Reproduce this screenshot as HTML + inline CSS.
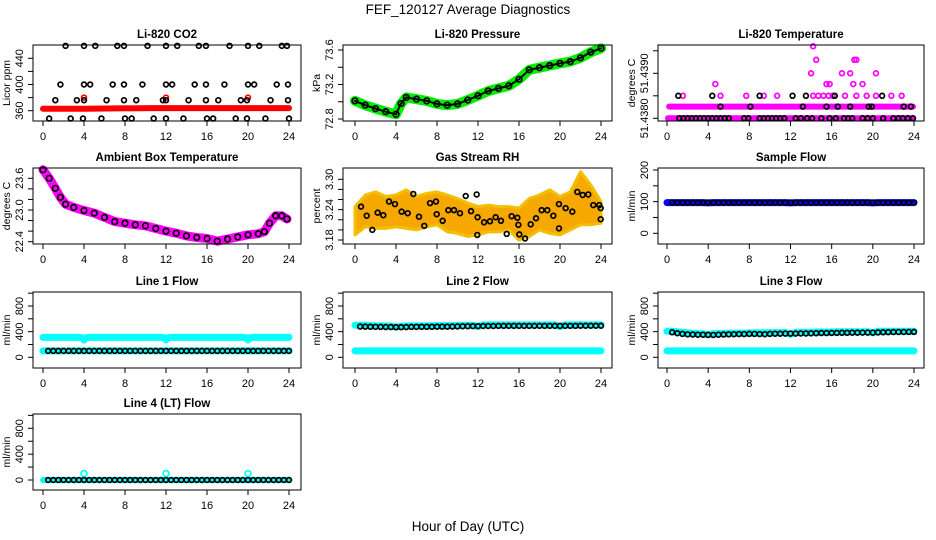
<!DOCTYPE html>
<html><head><meta charset="utf-8"><style>
html,body{margin:0;padding:0;background:#fff;}
svg{display:block;font-family:"Liberation Sans",Arial,sans-serif;}
</style></head><body>
<svg id="chart" width="936" height="540" viewBox="0 0 936 540">
<rect width="936" height="540" fill="#fff"/>
<text x="468" y="14" font-size="13.5" text-anchor="middle">FEF_120127  Average Diagnostics</text>
<text x="468" y="531" font-size="13.5" text-anchor="middle">Hour of Day (UTC)</text>
</svg>
<script>
// ---------- DATA ----------
const xTicks = [0,4,8,12,16,20,24];
const HH = [0,0.5,1,1.5,2,2.5,3,3.5,4,4.5,5,5.5,6,6.5,7,7.5,8,8.5,9,9.5,10,10.5,11,11.5,12,12.5,13,13.5,14,14.5,15,15.5,16,16.5,17,17.5,18,18.5,19,19.5,20,20.5,21,21.5,22,22.5,23,23.5,24];
const HOURS = [0,1,2,3,4,5,6,7,8,9,10,11,12,13,14,15,16,17,18,19,20,21,22,23,24];

// CO2
const co2RedH = [0,4,10.5,24];
const co2RedV = [363,363,364,364];
const co2RedOutH = [4,12,20];
const co2RedOutV = [380,380,380];
const co2BlackH = [2.2,4.0,5.1,7.25,7.9,10.2,12.0,13.1,15.2,15.9,18.2,20.0,21.1,23.3,23.8,
 1.7,4.0,4.6,6.8,7.9,9.7,12.0,12.6,14.8,15.9,17.7,20.0,20.6,22.8,23.9,
 1.2,3.3,4.0,6.2,7.9,9.1,11.7,12.0,14.2,15.9,17.1,19.3,19.9,22.2,23.9,
 0.6,2.7,3.9,5.7,8.0,8.65,10.8,12.0,13.7,16.0,16.6,18.8,19.9,21.7,24.0];
const co2BlackV = [459,459,459,459,459,459,459,459,459,459,459,459,459,459,459,
 400,400,400,400,400,400,400,400,400,400,400,400,400,400,400,
 376,376,376,376,376,376,376,376,376,376,376,376,376,376,376,
 348,348,348,348,348,348,348,348,348,348,348,348,348,348,348];

// Pressure
const presH = [0,1,2,3,4,4.5,5,6,7,8,9,10,11,12,13,14,15,16,17,18,19,20,21,22,23,24];
const presV = [73.01,72.96,72.92,72.885,72.855,72.98,73.05,73.03,73.01,72.975,72.96,72.975,73.02,73.07,73.125,73.155,73.185,73.26,73.37,73.395,73.42,73.445,73.465,73.51,73.575,73.62];

// Li-820 temperature
const tempPinkBandLevels = [51.4380,51.43826];
const tempPinkH = [1.55,5.2,7.7,9.4,10.7,14.2,14.7,15.2,15.7,16.1,17.3,18.4,19.4,20.3,21.8,22.8,
 4.7,15.5,15.8,18.1,19.0, 14.0,17.0,17.8,20.3, 14.5,18.2,18.4, 14.2];
const tempPinkV = [51.4385,51.4385,51.4385,51.4385,51.4385,51.4385,51.4385,51.4385,51.4385,51.4385,51.4385,51.4385,51.4385,51.4385,51.4385,51.4385,
 51.43876,51.43876,51.43876,51.43876,51.43876, 51.4390,51.4390,51.4390,51.4390, 51.43930,51.43930,51.43930, 51.43960];
const tempBlackH = [1.2,1.6,2.0,2.4,2.8,3.2,3.6,4.0,4.4,4.8,5.2,5.6,6.0,7.5,7.9,9.0,9.4,9.8,10.2,10.6,11.0,11.4,12.5,13.0,13.6,14.1,15.0,15.8,16.4,17.2,17.6,18.0,19.0,19.5,20.0,21.0,22.0,22.5,22.9,23.4,23.9,
 5.2,8.1,13.2,15.5,16.6,17.8,19.6,19.9,23.0,23.7,
 1.1,4.4,9.0,12.2,13.5,16.3,20.9];
const tempBlackV = [51.438,51.438,51.438,51.438,51.438,51.438,51.438,51.438,51.438,51.438,51.438,51.438,51.438,51.438,51.438,51.438,51.438,51.438,51.438,51.438,51.438,51.438,51.438,51.438,51.438,51.438,51.438,51.438,51.438,51.438,51.438,51.438,51.438,51.438,51.438,51.438,51.438,51.438,51.438,51.438,51.438,
 51.43826,51.43826,51.43826,51.43826,51.43826,51.43826,51.43826,51.43826,51.43826,51.43826,
 51.4385,51.4385,51.4385,51.4385,51.4385,51.4385,51.4385];

// Ambient box temperature
const ambH = [0,0.6,1.2,1.7,2.2,3,4,5,6,7,8,9,10,11,12,13,14,15,16,17,18,19,20,21,21.6,22.1,22.7,23.3,23.8];
const ambV = [23.76,23.6,23.41,23.24,23.11,23.05,22.99,22.94,22.86,22.78,22.75,22.72,22.70,22.65,22.60,22.56,22.51,22.48,22.46,22.41,22.45,22.49,22.53,22.55,22.59,22.75,22.89,22.89,22.83];

// Gas stream RH
const rhUpper = [3.246,3.269,3.275,3.266,3.269,3.279,3.266,3.272,3.275,3.269,3.262,3.253,3.246,3.249,3.246,3.246,3.243,3.262,3.269,3.279,3.266,3.275,3.315,3.289,3.256];
const rhLower = [3.190,3.206,3.203,3.203,3.206,3.203,3.200,3.206,3.210,3.196,3.193,3.187,3.190,3.196,3.196,3.200,3.180,3.187,3.200,3.193,3.190,3.200,3.210,3.210,3.213];
const rhBlackH = [0.59,1.14,1.69,2.21,2.76,3.32,3.90,4.55,5.14,5.69,6.24,6.76,7.32,7.90,7.97,8.55,9.11,9.66,10.24,10.80,11.32,11.87,11.93,11.96,12.59,13.17,13.72,14.24,14.80,15.28,15.84,15.94,16.03,16.59,17.14,17.66,18.21,18.76,19.35,19.90,19.90,20.55,21.20,21.69,22.21,22.76,23.25,23.83,23.97,23.97];
const rhBlackV = [3.246,3.228,3.200,3.234,3.229,3.256,3.251,3.236,3.233,3.271,3.226,3.208,3.253,3.256,3.231,3.218,3.239,3.239,3.233,3.267,3.237,3.270,3.190,3.225,3.215,3.217,3.225,3.218,3.192,3.227,3.224,3.210,3.191,3.183,3.211,3.223,3.239,3.239,3.228,3.251,3.203,3.243,3.236,3.275,3.269,3.270,3.249,3.249,3.243,3.221];

// Flows (half-hourly, index 0 = hour 0)
const sampleBand = [97,97,97,97,97,97,97,97,96,97,97,97,97,97,97,97,97,97,97,97,97,97,97,97,96,97,97,97,97,97,97,97,97,97,97,97,97,97,97,97,96,97,97,97,97,97,97,97,97];
const sampleBlack = [null,97,97,97,97,97,97,97,97,97,97,97,97,97,97,97,97,97,97,97,97,97,97,97,97,97,97,97,97,97,97,97,97,97,97,97,97,97,97,97,97,97,97,97,97,97,97,97,97];
const l1CyanHi = [310,310,310,310,310,310,310,310,300,310,310,310,310,310,310,310,310,310,310,310,310,310,310,310,300,310,310,310,310,310,310,310,310,310,310,310,310,310,310,310,300,310,310,310,310,310,310,310,310];
const l1CyanLo = [100,100,100,100,100,100,100,100,100,100,100,100,100,100,100,100,100,100,100,100,100,100,100,100,100,100,100,100,100,100,100,100,100,100,100,100,100,100,100,100,100,100,100,100,100,100,100,100,100];
const l1CyanDipH = [4,12,20];
const l1CyanDipV = [265,265,265];
const l1Black = [null,100,100,100,100,100,100,100,100,100,100,100,100,100,100,100,100,100,100,100,100,100,100,100,100,100,100,100,100,100,100,100,100,100,100,100,100,100,100,100,100,100,100,100,100,100,100,100,100];
const l2CyanHi = [500,500,500,495,490,490,488,488,470,485,488,490,490,490,490,492,495,495,495,495,498,500,500,500,480,505,505,505,505,505,505,505,505,505,505,505,505,505,505,505,480,505,505,505,505,505,505,505,505];
const l2CyanLo = l1CyanLo;
const l2Black = [null,480,478,476,475,474,472,472,470,470,472,474,475,476,476,476,478,478,478,480,482,484,485,486,486,488,488,488,490,490,490,490,490,490,490,490,490,490,490,490,490,490,490,490,492,492,492,492,492];
const l3CyanHi = [405,405,400,390,380,375,370,368,350,368,370,372,375,378,378,378,380,380,382,382,385,385,385,388,360,390,390,390,392,394,395,395,395,398,400,400,400,400,400,400,380,405,405,405,405,405,405,405,405];
const l3CyanLo = l1CyanLo;
const l3Black = [null,390,375,365,358,355,352,352,350,348,352,355,358,360,362,362,365,365,362,360,365,368,368,370,370,370,372,372,374,376,378,378,380,380,382,382,384,384,385,385,385,388,390,392,394,395,395,396,396];
const l4Cyan = [0,0,0,0,0,0,0,0,0,0,0,0,0,0,0,0,0,0,0,0,0,0,0,0,0,0,0,0,0,0,0,0,0,0,0,0,0,0,0,0,0,0,0,0,0,0,0,0,0];
const l4SpikeH = [4,12,20];
const l4SpikeV = [100,100,100];
const l4Black = [null,0,0,0,0,0,0,0,0,0,0,0,0,0,0,0,0,0,0,0,0,0,0,0,0,0,0,0,0,0,0,0,0,0,0,0,0,0,0,0,0,0,0,0,0,0,0,0,0];

// ---------- DRAWING ----------
const NS = "http://www.w3.org/2000/svg";
const svg = document.getElementById('chart');
const COLS = [{l:33,r:301,x0:43,x1:289},{l:343,r:612,x0:355,x1:601},{l:658,r:924,x0:667,x1:914}];
const ROWS = [45,168,292,414];
const BH = 76;
function mk(tag, attrs, parent){const e=document.createElementNS(NS,tag);for(const k in attrs)e.setAttribute(k,attrs[k]);(parent||svg).appendChild(e);return e;}

function panel(col,row,title,ylab,ymap,yticks,ylabels,name){
  const c=COLS[col], t=ROWS[row], b=t+BH;
  const g=mk('g',{});
  
  
  const xs=h=>c.x0+(c.x1-c.x0)*h/24;
  const ys=v=>t+ymap[1]+(ymap[3]-ymap[1])*(v-ymap[0])/(ymap[2]-ymap[0]);
  const tt=mk('text',{x:(c.l+c.r)/2,y:t-7,'font-size':11.5,'font-weight':'bold','text-anchor':'middle'},g);
  tt.textContent=title;
  
  
  const plot=mk('g',{},g);
  
  
  const fr=mk('rect',{x:c.l,y:t,width:c.r-c.l,height:BH,fill:'none',stroke:'#000','stroke-width':1},g);
  
  
  const xa=mk('g',{},g);
  
  
  xTicks.forEach(h=>{
    mk('line',{x1:xs(h),x2:xs(h),y1:b,y2:b+5,stroke:'#000'},xa);
    const tx=mk('text',{x:xs(h),y:b+19,'font-size':11,'text-anchor':'middle'},xa);
    tx.textContent=String(h);
    
    
  });
  const ya=mk('g',{},g);
  
  
  yticks.forEach(v=>{ mk('line',{x1:c.l-5,x2:c.l,y1:ys(v),y2:ys(v),stroke:'#000'},ya); });
  ylabels.forEach(l=>{
    const y=ys(l[0]);
    const tx=mk('text',{x:c.l-10,y:y,'font-size':11,'text-anchor':'middle',transform:'rotate(-90 '+(c.l-10)+' '+y+')'},ya);
    tx.textContent=l[1];
    
    
  });
  const yt=mk('text',{x:c.l-23,y:(t+b)/2,'font-size':10.5,'text-anchor':'middle',transform:'rotate(-90 '+(c.l-23)+' '+((t+b)/2)+')'},g);
  yt.textContent=ylab;
  
  
  return {xs,ys,plot};
}
function band(p,H,V,color,w,nm){
  let d='';H.forEach((h,i)=>{if(V[i]==null)return;d+=(d?'L':'M')+p.xs(h).toFixed(1)+' '+p.ys(V[i]).toFixed(1);});
  const e=mk('path',{d:d,fill:'none',stroke:color,'stroke-width':w,'stroke-linecap':'round','stroke-linejoin':'round'},p.plot);
  
  
}
function pts(p,H,V,color,nm,r){
  H.forEach((h,i)=>{ if(V[i]==null)return;
    const e=mk('circle',{cx:p.xs(h),cy:p.ys(V[i]),r:r||2.4,fill:'none',stroke:color,'stroke-width':1.7},p.plot);
    
    
  });
}

// CO2
let p=panel(0,0,'Li-820 CO2','Licor ppm',[360,65.7,440,13.3],[360,380,400,420,440],[[360,'360'],[400,'400'],[440,'440']],'co2');
band(p,co2RedH,co2RedV,'#ff0000',6,'co2-red-series');
pts(p,co2RedOutH,co2RedOutV,'#ff0000','co2-red-point');
pts(p,co2BlackH,co2BlackV,'#000','co2-black-point');

// Pressure
p=panel(1,0,'Li-820 Pressure','kPa',[72.8,74,73.6,5],[72.8,73.0,73.2,73.4,73.6],[[72.8,'72.8'],[73.2,'73.2'],[73.6,'73.6']],'pressure');
band(p,presH,presV,'#00ee00',10,'pressure-green-series');
band(p,presH,presV,'#000',2,'pressure-black-line');
pts(p,presH,presV,'#000','pressure-black-point',2.8);

// Li-820 Temperature
p=panel(2,0,'Li-820 Temperature','degrees C',[51.438,73.3,51.439,28.3],[51.438,51.4385,51.439,51.4395],[[51.438,'51.4380'],[51.439,'51.4390']],'li820-temp');
band(p,[0.1,23.9],[tempPinkBandLevels[0],tempPinkBandLevels[0]],'#ff00ff',6,'temp-pink-band-low');
band(p,[0.2,23.9],[tempPinkBandLevels[1],tempPinkBandLevels[1]],'#ff00ff',6,'temp-pink-band-mid');
pts(p,tempPinkH,tempPinkV,'#ff00ff','temp-pink-point');
pts(p,tempBlackH,tempBlackV,'#000','temp-black-point');

// Ambient
p=panel(0,1,'Ambient Box Temperature','degrees C',[22.4,73.7,23.6,10.3],[22.4,22.6,22.8,23.0,23.2,23.4,23.6],[[22.4,'22.4'],[23.0,'23.0'],[23.6,'23.6']],'ambient');
band(p,ambH,ambV,'#ff00ff',9,'ambient-pink-series');
pts(p,ambH,ambV,'#000','ambient-black-point',2.8);

// RH
p=panel(1,1,'Gas Stream RH','percent',[3.18,72,3.30,11.3],[3.18,3.20,3.22,3.24,3.26,3.28,3.30],[[3.18,'3.18'],[3.24,'3.24'],[3.30,'3.30']],'rh');
(function(){
  let d='';HOURS.forEach((h,i)=>{d+=(i?'L':'M')+p.xs(h).toFixed(1)+' '+p.ys(rhUpper[i]).toFixed(1);});
  for(let i=HOURS.length-1;i>=0;i--){d+='L'+p.xs(HOURS[i]).toFixed(1)+' '+p.ys(rhLower[i]).toFixed(1);}
  d+='Z';
  const e=mk('path',{d:d,fill:'#f7a800',stroke:'#f2c000','stroke-width':3,'stroke-linejoin':'round'},p.plot);
  
  
})();
pts(p,rhBlackH,rhBlackV,'#000','rh-black-point');

// Sample flow
p=panel(2,1,'Sample Flow','ml/min',[0,65.3,200,2],[0,50,100,150,200],[[0,'0'],[100,'100'],[200,'200']],'sample-flow');
band(p,HH,sampleBand,'#0000ff',7,'sample-blue-series');
pts(p,HH,sampleBlack,'#000','sample-black-point');

const fmap=[0,65.3,800,14], fticks=[0,200,400,600,800,1000], flabs=[[0,'0'],[400,'400'],[800,'800']];
// Line 1
p=panel(0,2,'Line 1 Flow','ml/min',fmap,fticks,flabs,'line1-flow');
band(p,HH,l1CyanHi,'#00ffff',7,'line1-cyan-high');
pts(p,l1CyanDipH,l1CyanDipV,'#00ffff','line1-cyan-dip');
band(p,HH,l1CyanLo,'#00ffff',7,'line1-cyan-low');
pts(p,HH,l1Black,'#000','line1-black-point');
// Line 2
p=panel(1,2,'Line 2 Flow','ml/min',fmap,fticks,flabs,'line2-flow');
band(p,HH,l2CyanHi,'#00ffff',7,'line2-cyan-high');
band(p,HH,l2CyanLo,'#00ffff',7,'line2-cyan-low');
pts(p,HH,l2Black,'#000','line2-black-point');
// Line 3
p=panel(2,2,'Line 3 Flow','ml/min',fmap,fticks,flabs,'line3-flow');
band(p,HH,l3CyanHi,'#00ffff',7,'line3-cyan-high');
band(p,HH,l3CyanLo,'#00ffff',7,'line3-cyan-low');
pts(p,HH,l3Black,'#000','line3-black-point');
// Line 4
p=panel(0,3,'Line 4 (LT) Flow','ml/min',[0,66,800,14.3],fticks,flabs,'line4-flow');
band(p,HH,l4Cyan,'#00ffff',6,'line4-cyan-series');
pts(p,l4SpikeH,l4SpikeV,'#00ffff','line4-cyan-spike',3);
pts(p,HH,l4Black,'#000','line4-black-point');
</script>
</body></html>
